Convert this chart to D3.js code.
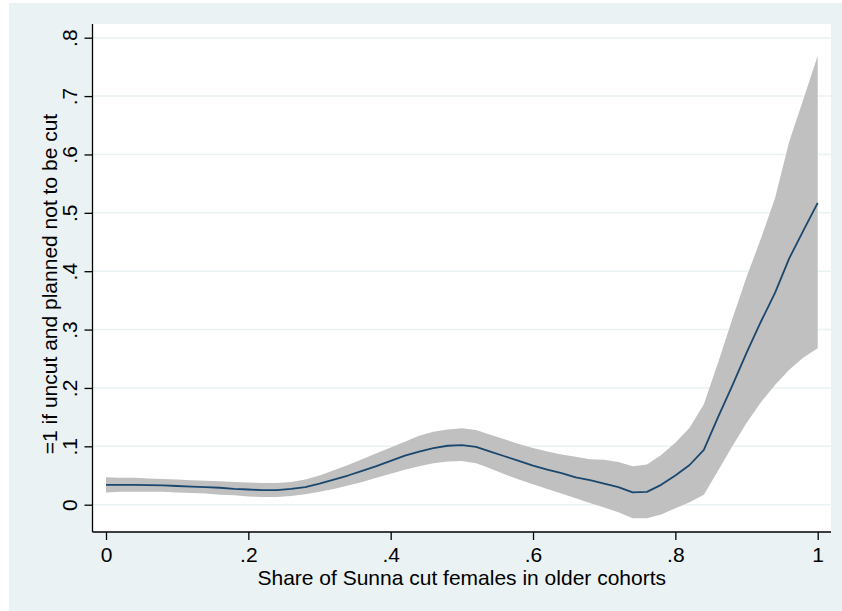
<!DOCTYPE html>
<html>
<head>
<meta charset="utf-8">
<script src="https://cdn.jsdelivr.net/npm/d3@7"></script>
<style>
  body { margin: 0; background: #fff; }
  text { font-family: "Liberation Sans", Arial, Helvetica, sans-serif; fill: #000; }
</style>
</head>
<body>
<div id="chart"></div>
<script>
// share of Sunna cut females (grid points)
var shareGrid = [0, 0.02, 0.04, 0.06, 0.08, 0.10, 0.12, 0.14, 0.16, 0.18,
                 0.20, 0.22, 0.24, 0.26, 0.28, 0.30, 0.32, 0.34, 0.36, 0.38,
                 0.40, 0.42, 0.44, 0.46, 0.48, 0.50, 0.52, 0.54, 0.56, 0.58,
                 0.60, 0.62, 0.64, 0.66, 0.68, 0.70, 0.72, 0.74, 0.76, 0.78,
                 0.80, 0.82, 0.84, 0.86, 0.88, 0.90, 0.92, 0.94, 0.96, 0.98, 1.00];
// smoothed fit
var fitValues = [0.034, 0.034, 0.034, 0.0335, 0.033, 0.032, 0.031, 0.030, 0.029, 0.027,
                 0.026, 0.025, 0.025, 0.027, 0.030, 0.036, 0.043, 0.050, 0.058, 0.066,
                 0.075, 0.084, 0.091, 0.097, 0.101, 0.102, 0.099, 0.091, 0.083, 0.075,
                 0.067, 0.060, 0.054, 0.047, 0.042, 0.036, 0.030, 0.021, 0.022, 0.034,
                 0.050, 0.068, 0.094, 0.150, 0.204, 0.260, 0.313, 0.363, 0.422, 0.470, 0.517];
// 95% CI lower
var ciLow = [0.021, 0.022, 0.022, 0.022, 0.022, 0.021, 0.020, 0.019, 0.017, 0.016,
             0.014, 0.013, 0.013, 0.015, 0.018, 0.022, 0.027, 0.033, 0.039, 0.046,
             0.053, 0.060, 0.066, 0.071, 0.074, 0.075, 0.071, 0.062, 0.052, 0.043,
             0.035, 0.027, 0.019, 0.011, 0.003, -0.005, -0.013, -0.023, -0.023, -0.017,
             -0.006, 0.004, 0.017, 0.058, 0.100, 0.140, 0.175, 0.205, 0.231, 0.252, 0.268];
// 95% CI upper
var ciHigh = [0.047, 0.046, 0.046, 0.045, 0.044, 0.043, 0.042, 0.041, 0.040, 0.039,
              0.038, 0.037, 0.037, 0.039, 0.043, 0.050, 0.059, 0.068, 0.078, 0.088,
              0.098, 0.108, 0.118, 0.125, 0.129, 0.131, 0.128, 0.120, 0.112, 0.104,
              0.097, 0.091, 0.086, 0.082, 0.078, 0.077, 0.073, 0.066, 0.069, 0.085,
              0.106, 0.132, 0.172, 0.243, 0.318, 0.390, 0.455, 0.525, 0.622, 0.695, 0.769];

var xTicks = [0, 0.2, 0.4, 0.6, 0.8, 1];
var yTicks = [0, 0.1, 0.2, 0.3, 0.4, 0.5, 0.6, 0.7, 0.8];

var width = 842, height = 611;
var bgColor = "#eaf2f3";
var fontSize = '21px';

var svg = d3.select('#chart').append('svg')
    .attr('width', width)
    .attr('height', height);

// outer graph region
svg.append('rect')
    .attr('x', 9).attr('y', 3)
    .attr('width', width - 9).attr('height', height - 3)
    .attr('fill', bgColor);

// plot region
var plot = {left: 92.5, right: 831, top: 24, bottom: 532};
svg.append('rect')
    .attr('x', plot.left).attr('y', plot.top)
    .attr('width', plot.right - plot.left).attr('height', plot.bottom - plot.top)
    .attr('fill', '#fff');

var x = d3.scaleLinear().domain([0, 1]).range([106, 817.7]);
var y = d3.scaleLinear().domain([0, 0.8]).range([504.7, 37.7]);

function fmt(v) {
  // Stata style: drop leading zero
  if (v === 0) return '0';
  if (v === 1) return '1';
  return d3.format('.1f')(v).replace(/^0/, '');
}

// horizontal grid
svg.append('g').selectAll('line')
    .data(yTicks)
  .enter().append('line')
    .attr('x1', plot.left).attr('x2', plot.right)
    .attr('y1', function(d) { return y(d); })
    .attr('y2', function(d) { return y(d); })
    .attr('stroke', bgColor)
    .attr('stroke-width', 1.5);

var rows = shareGrid.map(function(s, i) {
  return {s: s, fit: fitValues[i], lo: ciLow[i], hi: ciHigh[i]};
});

// confidence band
svg.append('path')
    .datum(rows)
    .attr('fill', '#c0c0c0')
    .attr('d', d3.area()
        .x(function(d) { return x(d.s); })
        .y0(function(d) { return y(d.lo); })
        .y1(function(d) { return y(d.hi); }));

// fitted line
svg.append('path')
    .datum(rows)
    .attr('fill', 'none')
    .attr('stroke', '#1a476f')
    .attr('stroke-width', 1.8)
    .attr('stroke-linejoin', 'round')
    .attr('d', d3.line()
        .x(function(d) { return x(d.s); })
        .y(function(d) { return y(d.fit); }));

// y axis
var yAxis = svg.append('g')
    .attr('transform', 'translate(' + plot.left + ',0)')
    .call(d3.axisLeft(y).tickValues(yTicks).tickSize(8).tickSizeOuter(0).tickFormat(fmt));
yAxis.select('.domain').attr('d', 'M0,' + plot.top + 'V' + plot.bottom);
yAxis.selectAll('line, path').attr('stroke', '#000').attr('stroke-width', 1.3);
yAxis.selectAll('text')
    .attr('x', null).attr('dy', null)
    .attr('transform', 'translate(-15.5,0) rotate(-90)')
    .attr('text-anchor', 'middle')
    .style('font-size', fontSize)
    .style('font-family', '"Liberation Sans", Arial, sans-serif');

// x axis
var xAxis = svg.append('g')
    .attr('transform', 'translate(0,' + plot.bottom + ')')
    .call(d3.axisBottom(x).tickValues(xTicks).tickSize(8).tickSizeOuter(0).tickFormat(fmt));
xAxis.select('.domain').attr('d', 'M' + plot.left + ',0H' + plot.right);
xAxis.selectAll('line, path').attr('stroke', '#000').attr('stroke-width', 1.3);
xAxis.selectAll('text')
    .attr('y', 30).attr('dy', null)
    .style('font-size', fontSize)
    .style('font-family', '"Liberation Sans", Arial, sans-serif');

// axis titles
svg.append('text')
    .attr('x', (plot.left + plot.right) / 2)
    .attr('y', 585)
    .attr('text-anchor', 'middle')
    .style('font-size', fontSize)
    .text('Share of Sunna cut females in older cohorts');

svg.append('text')
    .attr('transform', 'translate(57,284) rotate(-90)')
    .attr('text-anchor', 'middle')
    .style('font-size', fontSize)
    .text('=1 if uncut and planned not to be cut');
</script>
</body>
</html>
